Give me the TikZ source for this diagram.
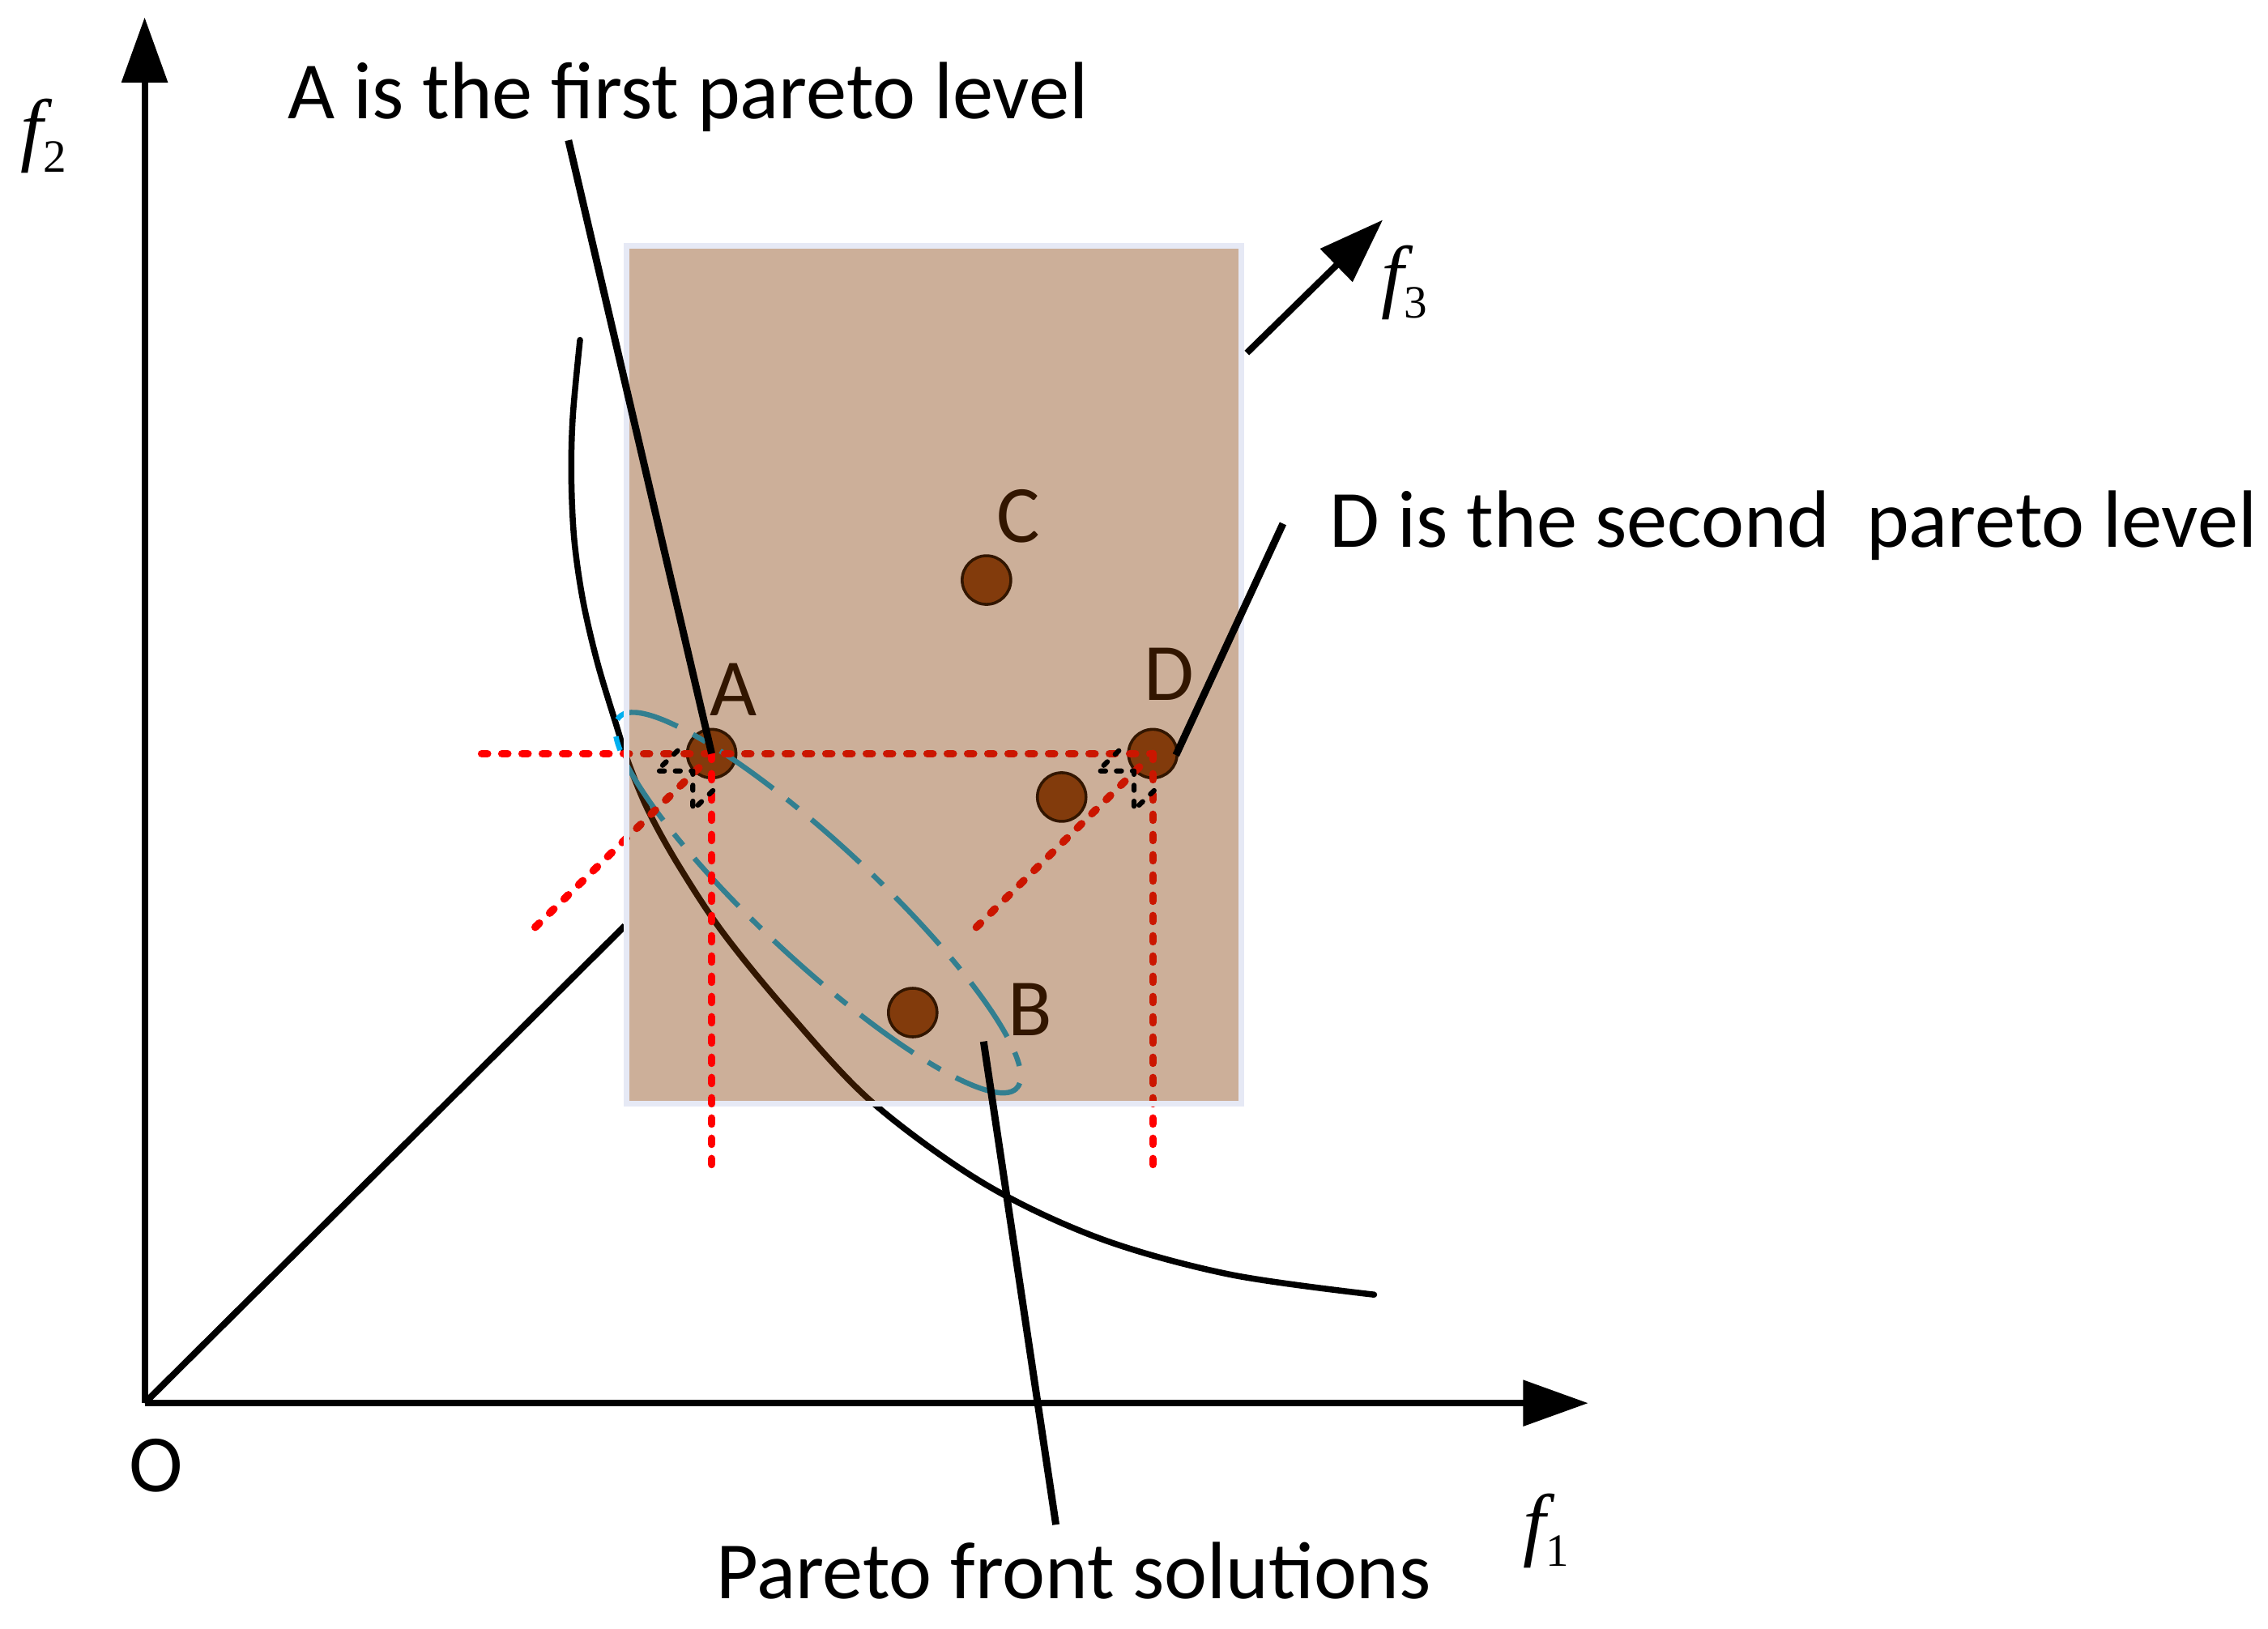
\documentclass[tikz,border=0pt]{standalone}
\usepackage{fontspec}
\setmainfont{Carlito}
\newfontfamily\tnr{Liberation Serif}
\usetikzlibrary{arrows.meta,calc}
\definecolor{ovl}{RGB}{127,55,0}
\definecolor{rimc}{RGB}{230,233,245}
\definecolor{ellc}{RGB}{0,176,240}
\definecolor{dotc}{RGB}{133,63,20}
\newcommand\flab[1]{{\tnr\fontsize{56}{56}\selectfont\itshape f}{\tnr\fontsize{32}{32}\selectfont\raisebox{-11pt}{#1}}}
\begin{document}
\begin{tikzpicture}[x=1pt,y=-1pt,
  axis/.style={line width=4.5, -{Triangle[length=45,width=31]}},
  lead/.style={line width=5},
  reddot/.style={red, line width=5.3, line cap=round, dash pattern=on 4 off 10},
  blkdash/.style={line width=3.5, line cap=round, line join=round, dash pattern=on 3.5 off 7.5},
  ptc/.style={circle, fill=dotc, draw=black, line width=2, minimum size=33.6, inner sep=0},
  lbl/.style={font=\fontsize{56.2}{60}\selectfont, inner sep=0},
  flb/.style={inner sep=0}]
\useasboundingbox (0,0) rectangle (1568,1126);
% axes
\coordinate (O) at (100,970);
\coordinate (ytop) at (100,12);
\coordinate (xend) at (1098,970);
\coordinate (dg) at (432,640);
\coordinate (f3s) at (862,244);
\coordinate (f3e) at (956,152);
\draw[axis] (O) -- (ytop);
\draw[axis] (O) -- (xend);
\draw[line width=4.5] (O) -- (dg);
\draw[axis] (f3s) -- (f3e);
% pareto curve
\draw[line width=4.2, line cap=round] plot[smooth, tension=0.55] coordinates {(401,235) (396,288) (395,330) (397,373) (403,415) (413,458) (426,501) (434,526) (448,560) (469,598) (500,645) (545,700) (603,762) (680,818) (760,856) (850,881) (950,895)};
% points
\node[ptc] (A) at (492,521) {};
\node[ptc] (B) at (631,700) {};
\node[ptc] (C) at (682,401) {};
\node[ptc] (D) at (797,521) {};
\node[ptc] (E) at (734,551) {};
% ellipse
\begin{scope}[shift={(565.5,624)}, rotate=-43]
\draw[ellc, line width=3.6, dash pattern=on 45 off 12 on 10 off 12] (0,0) ellipse [x radius=188, y radius=40];
\end{scope}
% red dotted lines beneath the box
\coordinate (hl) at (333,521);
\coordinate (ld) at (370,641);
\coordinate (le) at (486,528);
\coordinate (rd) at (675,641);
\coordinate (re) at (790,528);
\coordinate (av) at (492,808);
\coordinate (dv) at (797,808);
\draw[reddot] (hl) -- (D.center);
\draw[reddot] (ld) -- (le);
\draw[reddot] (rd) -- (re);
\draw[reddot] (D.center) -- (dv);
% letters
\node[lbl, anchor=base] (Al) at (507,495) {A};
\node[lbl, anchor=base] (Cl) at (704,375) {C};
\node[lbl, anchor=base] (Dl) at (808,484) {D};
\node[lbl, anchor=base] (Bl) at (712,716) {B};
% overlay box
\fill[ovl, fill opacity=0.4] (433,170) rectangle (858,763);
\draw[rimc, line width=4] (433,170) rectangle (858,763);
% on top
\draw[reddot] (A.center) -- (av);
\foreach \p in {A,D}{
  \draw[blkdash] ($(\p.center)+(-23.5,-2)$) -- ($(\p.center)+(-38,12)$) -- ($(\p.center)+(-13,12)$) -- ($(\p.center)+(-13,39)$) -- ($(\p.center)+(3,23.5)$);
}
% texts
\node[lbl, anchor=base west] (t1) at (199,82) {A is the first pareto level};
\node[lbl, anchor=base west] (t2) at (919,378) {D is the second\ \ pareto level};
\node[lbl, anchor=base west] (t3) at (495,1105) {Pareto front solutions};
\node[lbl, anchor=base] (Ol) at (108,1031) {O};
\coordinate (l1) at (393,97);
\coordinate (l2) at (887,362);
\coordinate (l3a) at (680,720);
\coordinate (l3b) at (730,1054);
\draw[lead] (l1) -- (A.center);
\draw[lead] (l2) -- (813,522);
\draw[lead] (l3a) -- (l3b);
% axis labels
\node[flb, anchor=base west] (f2) at (14,108) {\flab{2}};
\node[flb, anchor=base west] (f1) at (1053,1072) {\flab{1}};
\node[flb, anchor=base west] (f3) at (955,209) {\flab{3}};
\end{tikzpicture}
\end{document}
